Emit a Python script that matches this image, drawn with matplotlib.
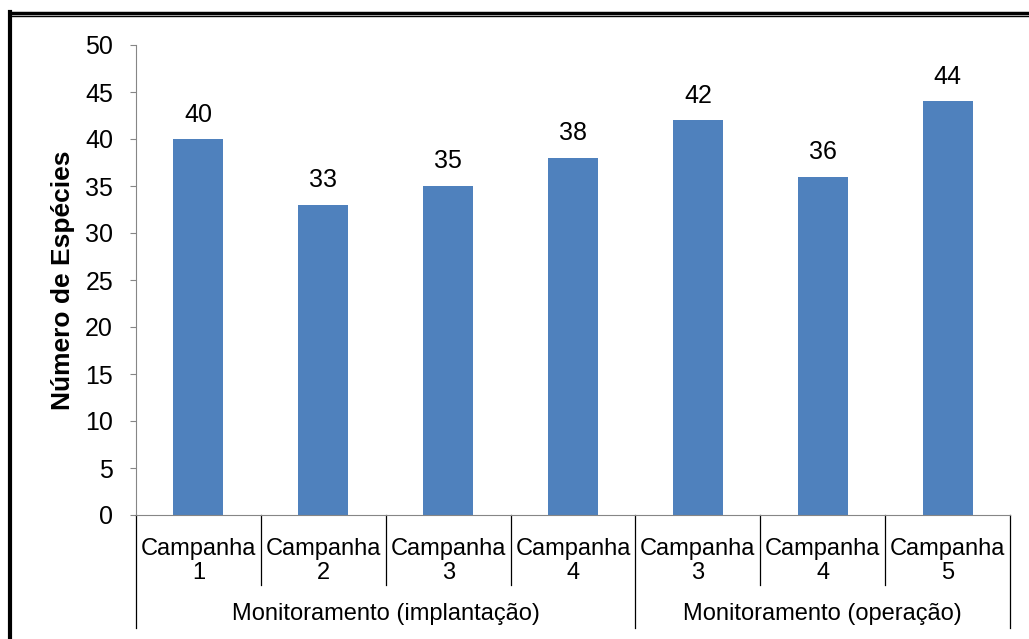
import matplotlib.pyplot as plt
from matplotlib.lines import Line2D

plt.rcParams['font.family'] = ['Liberation Sans', 'DejaVu Sans']

categorias = ['Campanha\n1', 'Campanha\n2', 'Campanha\n3', 'Campanha\n4',
              'Campanha\n3', 'Campanha\n4', 'Campanha\n5']
especies = [40, 33, 35, 38, 42, 36, 44]
grupos = ['Monitoramento (implantação)', 'Monitoramento (operação)']
grupo_tamanho = [4, 3]

fig = plt.figure(figsize=(10.29, 6.39), dpi=100)
ax = fig.add_axes([136 / 1029, 1 - 515 / 639, (1010 - 136) / 1029, (515 - 45) / 639])

x = list(range(len(especies)))
bars = ax.bar(x, especies, width=0.4, color='#4F81BD')
for xi, v in zip(x, especies):
    ax.annotate(str(v), (xi, v), xytext=(0, 9), textcoords='offset points',
                ha='center', va='bottom', fontsize=18)

ax.set_xlim(-0.5, len(especies) - 0.5)
ax.set_ylim(0, 50)
ax.set_yticks(range(0, 51, 5))
ax.tick_params(axis='y', labelsize=18, length=4.5, color='#868686', pad=12)
ax.set_xticks(x)
ax.set_xticklabels(categorias, fontsize=17, linespacing=1.15)
ax.tick_params(axis='x', length=0, pad=16.5)

for s in ['top', 'right']:
    ax.spines[s].set_visible(False)
ax.spines['left'].set_color('#868686')
ax.spines['bottom'].set_color('#868686')

ax.set_ylabel('Número de Espécies', fontsize=19, fontweight='bold', labelpad=7)

# separadores das categorias e dos grupos
trans = ax.get_xaxis_transform()
limites_grupo = [-0.5]
for n in grupo_tamanho:
    limites_grupo.append(limites_grupo[-1] + n)
for i in range(len(especies) + 1):
    xb = i - 0.5
    y_fim = -0.240 if xb in limites_grupo else -0.149
    ax.add_line(Line2D([xb, xb], [0, y_fim], transform=trans, color='#000000',
                       lw=0.9, clip_on=False))
for g, a, b in zip(grupos, limites_grupo[:-1], limites_grupo[1:]):
    ax.text((a + b) / 2, -0.21, g, transform=trans, ha='center', va='center',
            fontsize=17)

# moldura
fig.add_artist(Line2D([9.5 / 1029, 1], [1 - 13 / 639, 1 - 13 / 639], color='black', lw=2.5))
fig.add_artist(Line2D([9.5 / 1029, 1], [1 - 16 / 639, 1 - 16 / 639], color='black', lw=1.0))
fig.add_artist(Line2D([9.5 / 1029, 9.5 / 1029], [0, 1 - 12 / 639], color='black', lw=3.0))

fig.savefig('out.png', dpi=100)
